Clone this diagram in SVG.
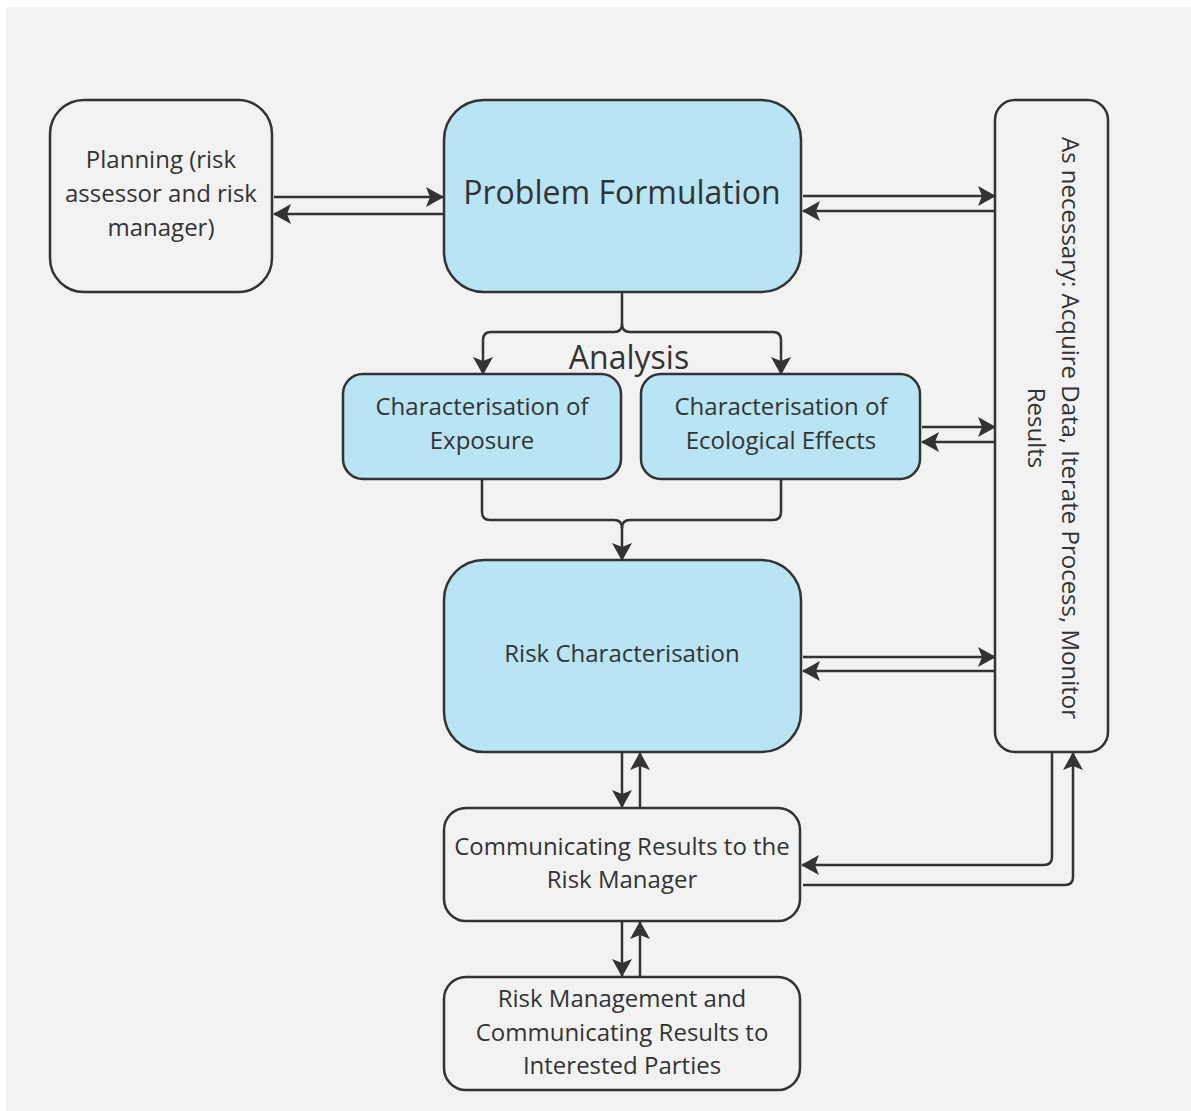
<svg xmlns="http://www.w3.org/2000/svg" width="1191" height="1111" viewBox="0 0 1191 1111">
<style>
.box{fill:#f2f2f2;stroke:#333;stroke-width:2.5}
.blue{fill:#b9e4f3;stroke:#333;stroke-width:2.5}
.t{font-family:"Open Sans","Noto Sans","Liberation Sans",sans-serif;font-size:24px;fill:#333;text-anchor:middle}
.big{font-size:32px}
.c{fill:none;stroke:#333;stroke-width:2.5}
</style>
<defs>
<marker id="ah" viewBox="0 0 18 20" refX="17" refY="10" markerWidth="18" markerHeight="20" markerUnits="userSpaceOnUse" orient="auto">
<path d="M0,0 L18,10 L0,20 L4,10 z" fill="#333"/>
</marker>
</defs>
<rect x="0" y="0" width="1191" height="1111" fill="#ffffff"/>
<rect x="6" y="7" width="1185" height="1104" fill="#f2f2f2"/>

<g id="planning">
<rect class="box" x="50" y="100" width="222" height="192" rx="34"/>
<text class="t" x="161" y="168">Planning (risk</text>
<text class="t" x="161" y="202">assessor and risk</text>
<text class="t" x="161" y="236">manager)</text>
</g>

<g id="problem-formulation">
<rect class="blue" x="444" y="100" width="357" height="192" rx="40"/>
<text class="t big" x="622" y="204">Problem Formulation</text>
</g>

<g id="acquire-data">
<rect class="box" x="995" y="100" width="113" height="652" rx="20"/>
<g transform="translate(1051.5,428) rotate(90)">
<text class="t" x="0" y="-10">As necessary: Acquire Data, Iterate Process, Monitor</text>
<text class="t" x="0" y="24">Results</text>
</g>
</g>

<g id="analysis-label">
<text class="t big" x="629" y="369">Analysis</text>
</g>

<g id="exposure">
<rect class="blue" x="343" y="374" width="278" height="105" rx="20"/>
<text class="t" x="482" y="415">Characterisation of</text>
<text class="t" x="482" y="449">Exposure</text>
</g>

<g id="ecological-effects">
<rect class="blue" x="641" y="374" width="279" height="105" rx="20"/>
<text class="t" x="781" y="415">Characterisation of</text>
<text class="t" x="781" y="449">Ecological Effects</text>
</g>

<g id="risk-characterisation">
<rect class="blue" x="444" y="560" width="357" height="192" rx="40"/>
<text class="t" x="622" y="662">Risk Characterisation</text>
</g>

<g id="communicating">
<rect class="box" x="444" y="808" width="356" height="113" rx="22"/>
<text class="t" x="622" y="855">Communicating Results to the</text>
<text class="t" x="622" y="888">Risk Manager</text>
</g>

<g id="risk-management">
<rect class="box" x="444" y="977" width="356" height="113" rx="22"/>
<text class="t" x="622" y="1007">Risk Management and</text>
<text class="t" x="622" y="1041">Communicating Results to</text>
<text class="t" x="622" y="1074">Interested Parties</text>
</g>

<g id="connectors">
<path class="c" d="M274,197 L443,197" marker-end="url(#ah)"/>
<path class="c" d="M443,214 L274,214" marker-end="url(#ah)"/>
<path class="c" d="M803,196 L995,196" marker-end="url(#ah)"/>
<path class="c" d="M995,211 L803,211" marker-end="url(#ah)"/>
<path class="c" d="M622,293 L622,324 Q622,332 614,332 L491,332 Q483,332 483,340 L483,374" marker-end="url(#ah)"/>
<path class="c" d="M622,324 Q622,332 630,332 L773,332 Q781,332 781,340 L781,374" marker-end="url(#ah)"/>
<path class="c" d="M922,427 L995,427" marker-end="url(#ah)"/>
<path class="c" d="M995,442 L922,442" marker-end="url(#ah)"/>
<path class="c" d="M482,480 L482,512 Q482,520 490,520 L614,520 Q622,520 622,528 L622,560" marker-end="url(#ah)"/>
<path class="c" d="M781,480 L781,512 Q781,520 773,520 L630,520 Q622,520 622,528"/>
<path class="c" d="M803,657 L995,657" marker-end="url(#ah)"/>
<path class="c" d="M995,671 L803,671" marker-end="url(#ah)"/>
<path class="c" d="M622,753 L622,807" marker-end="url(#ah)"/>
<path class="c" d="M640,807 L640,753" marker-end="url(#ah)"/>
<path class="c" d="M622,922 L622,976" marker-end="url(#ah)"/>
<path class="c" d="M640,976 L640,922" marker-end="url(#ah)"/>
<path class="c" d="M1052,753 L1052,857 Q1052,865 1044,865 L802,865" marker-end="url(#ah)"/>
<path class="c" d="M803,885 L1065,885 Q1073,885 1073,877 L1073,753" marker-end="url(#ah)"/>
</g>
</svg>
